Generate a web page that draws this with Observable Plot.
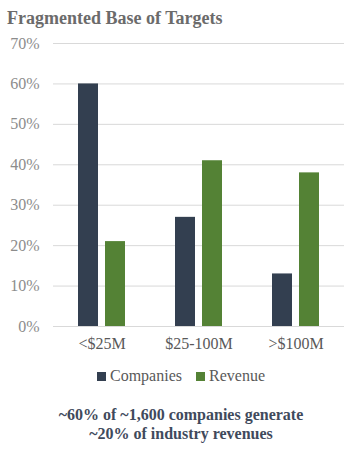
<!DOCTYPE html>
<html>
<head>
<meta charset="utf-8">
<script src="https://cdn.jsdelivr.net/npm/d3@7"></script>
<script src="https://cdn.jsdelivr.net/npm/@observablehq/plot@0.6"></script>
<style>
  html, body { margin: 0; padding: 0; background: #fff; }
  body { width: 362px; font-family: "Liberation Serif", serif; }
  #title { box-sizing: border-box; height: 30px; padding: 8px 0 0 7px; line-height: 20px; font-size: 18px; font-weight: bold; color: #6b6b6b; white-space: nowrap; }
  #chart svg { display: block; font-family: "Liberation Serif", serif; }
  #legend { height: 22px; line-height: 22px; text-align: center; font-size: 16px; color: #595959; }
  #legend .item { display: inline-block; margin: 0 7px; }
  #legend .sw { display: inline-block; width: 9px; height: 9px; margin-right: 4px; vertical-align: 0px; }
  #caption { margin-top: 18px; line-height: 19px; text-align: center; font-size: 16px; font-weight: bold; color: #3f4a5c; }
</style>
</head>
<body>
<div id="title">Fragmented Base of Targets</div>
<div id="chart"></div>
<div id="legend"></div>
<div id="caption">~60% of ~1,600 companies generate<br>~20% of industry revenues</div>
<script>
const categories = ["<$25M", "$25-100M", ">$100M"];
const seriesNames = ["Companies", "Revenue"];
const companies = [60, 27, 13];
const revenue = [21, 41, 38];
const yTicks = [0, 10, 20, 30, 40, 50, 60, 70];
const colors = ["#333f50", "#548235"];

const data = categories.flatMap((c, i) => [
  {cat: c, series: seriesNames[0], value: companies[i]},
  {cat: c, series: seriesNames[1], value: revenue[i]}
]);

const chart = Plot.plot({
  width: 362,
  height: 335,
  marginLeft: 52,
  marginRight: 18,
  marginTop: 13,
  marginBottom: 39,
  style: {fontFamily: "'Liberation Serif', serif", background: "#fff"},
  fx: {domain: categories, padding: 0, label: null, axis: null},
  x: {domain: seriesNames, paddingInner: 0.25, paddingOuter: 0.8625, axis: null},
  y: {domain: [0, 70], label: null, axis: null},
  color: {domain: seriesNames, range: colors},
  marks: [
    Plot.gridY(yTicks, {stroke: "#d9d9d9", strokeOpacity: 1, strokeWidth: 1}),
    Plot.axisY(yTicks, {tickSize: 0, tickPadding: 14, tickFormat: d => d + "%", fontSize: 16, fill: "#8c8c8c", label: null}),
    Plot.axisFx({anchor: "bottom", tickSize: 0, tickPadding: 11, fontSize: 16, fill: "#595959", label: null}),
    Plot.barY(data, {fx: "cat", x: "series", y: "value", fill: "series"})
  ]
});
document.getElementById("chart").appendChild(chart);

const legend = document.getElementById("legend");
seriesNames.forEach((name, i) => {
  const item = document.createElement("span");
  item.className = "item";
  const sw = document.createElement("span");
  sw.className = "sw";
  sw.style.background = colors[i];
  item.appendChild(sw);
  item.appendChild(document.createTextNode(name));
  legend.appendChild(item);
});
</script>
</body>
</html>
